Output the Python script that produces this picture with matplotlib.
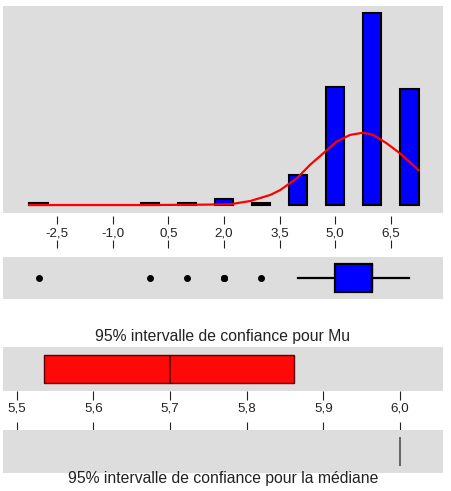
import numpy as np
import matplotlib
matplotlib.use("Agg")
import matplotlib.pyplot as plt
import matplotlib.transforms as mtransforms

plt.rcParams['font.family'] = ['Liberation Sans', 'DejaVu Sans']

# valeurs (centres des classes) et effectifs de l'histogramme
valeurs = [-3, 0, 1, 2, 3, 4, 5, 6, 7]
effectifs = [1, 1, 1, 3, 1, 16, 62, 101, 61]

# courbe normale (en effectifs)
courbe_x = [-3.25, 0.0, 1.5, 2.17, 2.71, 3.25, 3.52, 3.97, 4.32, 4.73, 5.04, 5.40, 5.76, 6.03, 6.39, 6.75, 7.25]
courbe_y = [0, 0, 0.2, 0.4, 2.1, 5.3, 7.9, 14.1, 21.1, 28.1, 33.4, 36.9, 38.1, 36.9, 32.5, 27.2, 18.4]

ticks_haut = [-2.5, -1.0, 0.5, 2.0, 3.5, 5.0, 6.5]
labels_haut = ["-2,5", "-1,0", "0,5", "2,0", "3,5", "5,0", "6,5"]

# intervalles de confiance
ic_mu = [5.535, 5.862]
moyenne = 5.70
ic_mediane = [6.0, 6.0]
ticks_bas = [5.5, 5.6, 5.7, 5.8, 5.9, 6.0]
labels_bas = ["5,5", "5,6", "5,7", "5,8", "5,9", "6,0"]

titre_mu = "95% intervalle de confiance pour Mu"
titre_med = "95% intervalle de confiance pour la médiane"

gris = '#dddddd'
W, H = 452, 491
xlim_haut = (-3.96, 7.91)
xlim_bas = (5.482, 6.056)
taille_ticks = 9.6
taille_titre = 11.3


def zone(top, bottom, left=3, right=443):             # axes a partir de coordonnees pixels
    return fig.add_axes([left / W, (H - bottom) / H, (right - left) / W, (bottom - top) / H])


def nettoyer(ax, fond=gris):
    ax.set_facecolor(fond)
    for s in ax.spines.values():
        s.set_visible(False)
    ax.set_xticks([])
    ax.set_yticks([])


fig = plt.figure(figsize=(W / 100, H / 100), dpi=100)

# histogramme
ax1 = zone(6, 213)
nettoyer(ax1)
ax1.bar(valeurs, effectifs, width=0.5, color='#0000ff', edgecolor='black', linewidth=1.5, zorder=2)
ax1.plot(courbe_x, courbe_y, color='#ff0000', linewidth=1.6, zorder=3)
ax1.set_xlim(*xlim_haut)
ax1.set_ylim(-4.2, 104.8)

# graduations entre histogramme et boite
axt = zone(216, 248)
nettoyer(axt, 'none')
axt.set_xlim(*xlim_haut)
axt.set_xticks(ticks_haut)
axt.set_xticklabels([])
axt.tick_params(axis='x', direction='in', top=True, bottom=True, length=5.8, width=0.8, color='#222222')
tr = mtransforms.blended_transform_factory(axt.transData, axt.transAxes)
for v, lab in zip(ticks_haut, labels_haut):
    axt.text(v, 0.44, lab, transform=tr, ha='center', va='center', fontsize=taille_ticks, color='#222222')

# boite a moustaches
donnees = np.repeat(valeurs, effectifs)
ax2 = zone(257, 299)
nettoyer(ax2)
ax2.boxplot(donnees, orientation='horizontal', whis=1.5, widths=0.66, patch_artist=True,
            boxprops=dict(facecolor='#0000ff', edgecolor='black', linewidth=1.6),
            whiskerprops=dict(color='black', linewidth=1.6),
            capprops=dict(linewidth=0),
            medianprops=dict(color='black', linewidth=1.6),
            flierprops=dict(marker='o', markerfacecolor='black', markeredgecolor='black', markersize=4))
ax2.set_xlim(*xlim_haut)
ax2.set_ylim(0.5, 1.5)
ax2.set_xticks([])
ax2.set_yticks([])

# intervalle de confiance pour Mu
ax3 = zone(347, 391)
nettoyer(ax3)
ax3.barh(0.5, ic_mu[1] - ic_mu[0], left=ic_mu[0], height=0.62, color='#ff0808', edgecolor='#5a0000', linewidth=1.0)
ax3.vlines(moyenne, 0.19, 0.81, color='#5a0000', linewidth=1.2)
ax3.set_xlim(*xlim_bas)
ax3.set_ylim(0, 1)
ax3.text(0.5, 1.0 + 10.5 / 44, titre_mu, transform=ax3.transAxes, ha='center', va='center',
         fontsize=taille_titre, color='#222222')

# graduations du bas
axb = zone(391, 431)
nettoyer(axb, 'none')
axb.set_xlim(*xlim_bas)
axb.set_xticks(ticks_bas)
axb.set_xticklabels([])
axb.tick_params(axis='x', direction='in', top=True, bottom=True, length=6.5, width=0.8, color='#222222')
tr = mtransforms.blended_transform_factory(axb.transData, axb.transAxes)
for v, lab in zip(ticks_bas, labels_bas):
    axb.text(v, 0.57, lab, transform=tr, ha='center', va='center', fontsize=taille_ticks, color='#222222')

# intervalle de confiance pour la mediane
ax4 = zone(430, 473)
nettoyer(ax4)
ax4.hlines(0.5, ic_mediane[0], ic_mediane[1], color='#505050', linewidth=1.2)
ax4.vlines(ic_mediane[0], 0.17, 0.83, color='#505050', linewidth=1.2)
ax4.set_xlim(*xlim_bas)
ax4.set_ylim(0, 1)
ax4.text(0.5, -6 / 43, titre_med, transform=ax4.transAxes, ha='center', va='center',
         fontsize=taille_titre, color='#222222')

fig.savefig("out.png", dpi=100)
